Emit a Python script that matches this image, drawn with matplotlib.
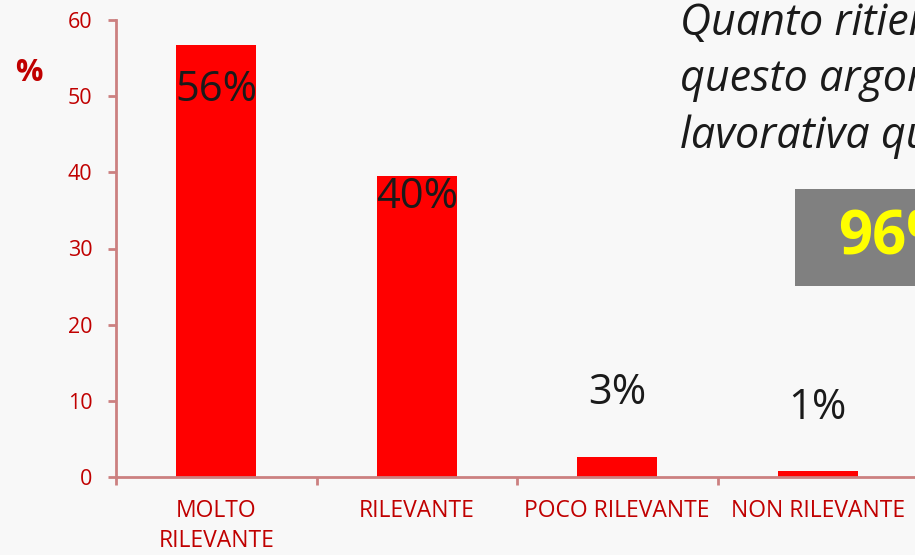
import matplotlib.pyplot as plt
from matplotlib.patches import Rectangle

plt.rcParams['font.family'] = ['Open Sans', 'DejaVu Sans']

# dati
categorie = ['MOLTO\nRILEVANTE', 'RILEVANTE', 'POCO RILEVANTE', 'NON RILEVANTE']
valori = [56.7, 39.5, 2.6, 0.8]
etichette = ['56%', '40%', '3%', '1%']
totale_rilevante = '96%'

axis_col = '#cc8080'
tick_col = '#c00000'
bg = '#f8f8f8'

fig = plt.figure(figsize=(9.15, 5.55), dpi=100, facecolor=bg)
ax = fig.add_axes([116 / 915, 78 / 555, 802 / 915, 457 / 555])
ax.set_facecolor(bg)

x = range(len(valori))
ax.bar(x, valori, width=0.4, color='#ff0000', zorder=2)

# posizione delle etichette (punti rispetto alla cima della barra)
offsets = [-32, -15, 46, 45]
for i, (v, lab, off) in enumerate(zip(valori, etichette, offsets)):
    ax.annotate(lab, xy=(i, v), xytext=(0, off), textcoords='offset points',
                ha='center', va='center', fontsize=30, color='#1a1a1a')

ax.set_xlim(-0.5, 3.5)
ax.set_ylim(0, 60)
ax.set_yticks(range(0, 61, 10))

ax.set_xticks(list(x))
ax.set_xticklabels(categorie, fontsize=16.5, color=tick_col, linespacing=1.3)
ax.set_xticks([-0.5, 0.5, 1.5, 2.5, 3.5], minor=True)
ax.tick_params(axis='x', which='major', length=0, pad=16)
ax.tick_params(axis='x', which='minor', length=6, width=2, color=axis_col, direction='out')
ax.tick_params(axis='y', length=6, width=2, color=axis_col, labelcolor=tick_col,
               labelsize=15.5, pad=11)

for s in ['top', 'right']:
    ax.spines[s].set_visible(False)
for s in ['left', 'bottom']:
    ax.spines[s].set_color(axis_col)
    ax.spines[s].set_linewidth(2)

# etichetta asse
fig.text(15 / 915, 1 - 73 / 555, '%', fontsize=22, fontweight='bold', color=tick_col,
         ha='left', va='center')

# domanda (tagliata sul bordo come nell'originale)
righe = ['Quanto ritieni', 'questo argomento', 'lavorativa quotidiana?']
for k, r in enumerate(righe):
    fig.text(680 / 915, 1 - (35 + 56.5 * k) / 555, r, fontsize=31, style='italic',
             color='#1a1a1a', ha='left', va='baseline')

# riquadro grigio
fig.patches.append(Rectangle((795 / 915, 1 - 286 / 555), 0.3, 97 / 555,
                             transform=fig.transFigure, facecolor='#808080',
                             edgecolor='none', zorder=1))
fig.text(838 / 915, 1 - 239 / 555, totale_rilevante, fontsize=43, fontweight='bold',
         color='#ffff00', ha='left', va='center', zorder=3)

fig.savefig('out.png', dpi=100, facecolor=bg)
